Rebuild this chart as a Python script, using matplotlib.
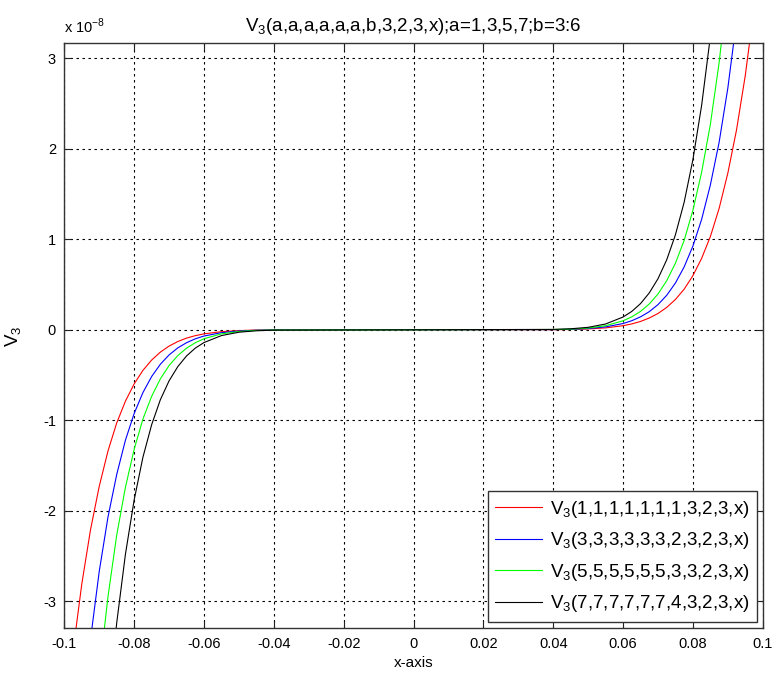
import matplotlib
matplotlib.use("Agg")
from matplotlib import pyplot as plt

plt.rcParams['font.family'] = ['Liberation Sans', 'DejaVu Sans']
plt.rcParams['mathtext.fontset'] = 'custom'
plt.rcParams['mathtext.rm'] = 'Liberation Sans'

# x samples
x = [-0.1, -0.0975, -0.095, -0.0925, -0.09, -0.0875, -0.085, -0.0825, -0.08,
     -0.0775, -0.075, -0.0725, -0.07, -0.0675, -0.065, -0.0625, -0.06, -0.055,
     -0.05, -0.045, -0.04, 0.0, 0.04, 0.045, 0.05, 0.055, 0.06, 0.0625, 0.065,
     0.0675, 0.07, 0.0725, 0.075, 0.0775, 0.08, 0.0825, 0.085, 0.0875, 0.09,
     0.0925, 0.095, 0.0975, 0.1]

# V3 values in units of 1e-8
v_red = [-4.46, -3.55, -2.81, -2.21, -1.73, -1.34, -1.03, -0.789, -0.598,
         -0.449, -0.335, -0.247, -0.180, -0.130, -0.092, -0.065, -0.045, -0.021,
         -0.009, -0.003, -0.001, 0.0, 0.001, 0.003, 0.009, 0.021, 0.045, 0.065,
         0.092, 0.130, 0.180, 0.247, 0.335, 0.449, 0.598, 0.789, 1.03, 1.34,
         1.73, 2.21, 2.81, 3.55, 4.46]
v_blue = [-6.89, -5.48, -4.34, -3.42, -2.67, -2.07, -1.60, -1.22, -0.925,
          -0.695, -0.517, -0.381, -0.278, -0.200, -0.143, -0.100, -0.069, -0.032,
          -0.014, -0.005, -0.002, 0.0, 0.002, 0.005, 0.014, 0.032, 0.069, 0.100,
          0.143, 0.200, 0.278, 0.381, 0.517, 0.695, 0.925, 1.22, 1.60, 2.07,
          2.67, 3.42, 4.34, 5.48, 6.89]
v_green = [-9.80, -7.80, -6.18, -4.86, -3.80, -2.95, -2.27, -1.74, -1.32,
           -0.988, -0.736, -0.542, -0.395, -0.285, -0.203, -0.143, -0.099, -0.045,
           -0.019, -0.007, -0.003, 0.0, 0.003, 0.007, 0.019, 0.045, 0.099, 0.143,
           0.203, 0.285, 0.395, 0.542, 0.736, 0.988, 1.32, 1.74, 2.27, 2.95,
           3.80, 4.86, 6.18, 7.80, 9.80]
v_black = [-13.97, -11.13, -8.80, -6.93, -5.41, -4.20, -3.24, -2.48, -1.88,
           -1.41, -1.05, -0.773, -0.564, -0.407, -0.289, -0.203, -0.141, -0.064,
           -0.027, -0.011, -0.004, 0.0, 0.004, 0.011, 0.027, 0.064, 0.141, 0.203,
           0.289, 0.407, 0.564, 0.773, 1.05, 1.41, 1.88, 2.48, 3.24, 4.20,
           5.41, 6.93, 8.80, 11.13, 13.97]

labels = [r'V$_3$(1,1,1,1,1,1,1,3,2,3,x)',
          r'V$_3$(3,3,3,3,3,3,2,3,2,3,x)',
          r'V$_3$(5,5,5,5,5,5,3,3,2,3,x)',
          r'V$_3$(7,7,7,7,7,7,4,3,2,3,x)']
colors = ['#ff0000', '#0000ff', '#00ff00', '#000000']

xticks = [-0.1, -0.08, -0.06, -0.04, -0.02, 0, 0.02, 0.04, 0.06, 0.08, 0.1]
xticklabels = ['-0.1', '-0.08', '-0.06', '-0.04', '-0.02', '0',
               '0.02', '0.04', '0.06', '0.08', '0.1']
yticks = [-3, -2, -1, 0, 1, 2, 3]
yticklabels = ['-3', '-2', '-1', '0', '1', '2', '3']

fig = plt.figure(figsize=(7.76, 6.73), dpi=100)
ax = fig.add_axes([0.0829, 0.0664, 0.90, 0.8693])

for v, c, lab in zip([v_red, v_blue, v_green, v_black], colors, labels):
    ax.plot(x, v, color=c, lw=0.8, label=lab)

ax.set_xlim(-0.1, 0.1)
ax.set_ylim(-3.3, 3.167)
ax.set_xticks(xticks)
ax.set_xticklabels(xticklabels)
ax.set_yticks(yticks)
ax.set_yticklabels(yticklabels)
ax.tick_params(direction='in', top=True, right=True, length=5,
               labelsize=10.5, pad=6, colors='#222222', labelcolor='black')
ax.grid(True, color='black', linestyle=(0, (2.2, 3.2)), linewidth=0.8)
for s in ax.spines.values():
    s.set_color('#333333')
    s.set_linewidth(1.0)

ax.set_title(r'V$_3$(a,a,a,a,a,a,b,3,2,3,x);a=1,3,5,7;b=3:6', fontsize=13.5, pad=9)
ax.set_xlabel('x-axis', fontsize=11, labelpad=4)
ax.set_ylabel(r'V$_3$', fontsize=13.5, labelpad=14)
ax.text(0.0, 1.012, r'x 10$^{-8}$', transform=ax.transAxes, fontsize=10.5,
        ha='left', va='bottom')

leg = ax.legend(loc='lower right', bbox_to_anchor=(0.9914, 0.0113),
                borderaxespad=0, fontsize=13.5, handlelength=2.5,
                labelspacing=0.56, fancybox=False, framealpha=1,
                edgecolor='#333333', borderpad=0.4, handletextpad=0.4)
leg.get_frame().set_linewidth(1.0)

fig.savefig('out.png', dpi=100)
